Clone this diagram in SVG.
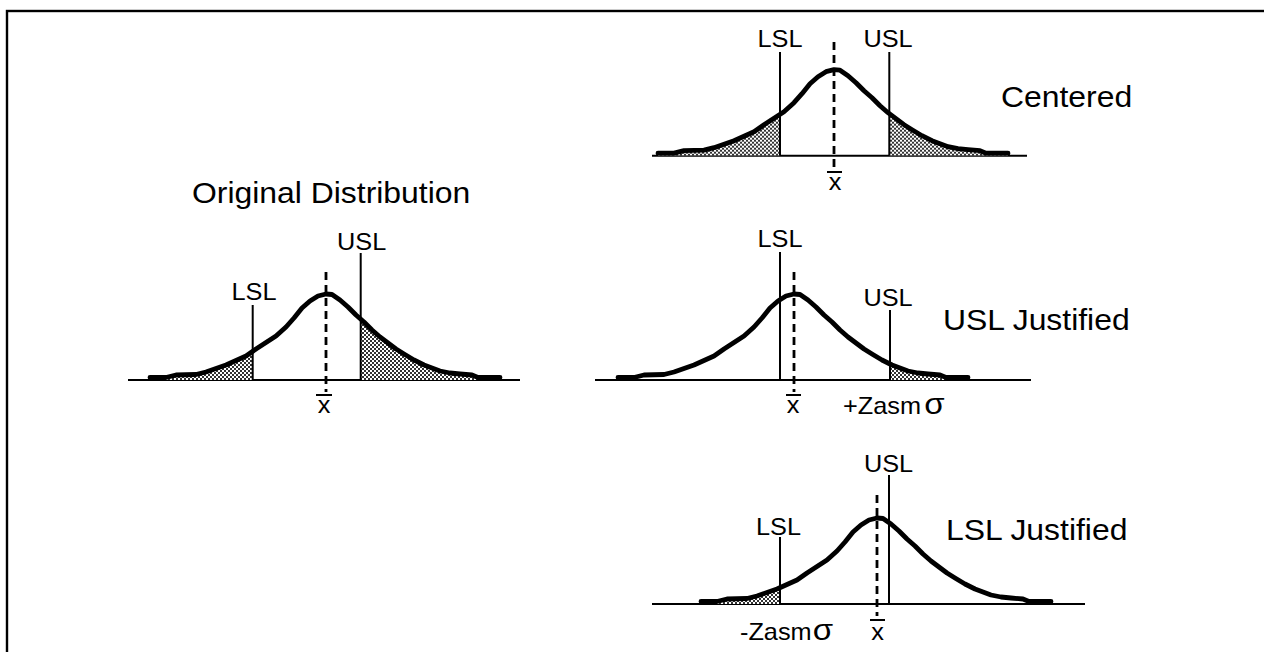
<svg xmlns="http://www.w3.org/2000/svg" xmlns:xlink="http://www.w3.org/1999/xlink" width="1264" height="652" viewBox="0 0 1264 652">
<style>
.t{font-family:"Liberation Sans",Arial,sans-serif;fill:#000}
.lab{font-size:23px}
.ttl{font-size:29px}
.sig{font-size:30px}
.base{stroke:#000;stroke-width:2;fill:none}
.spec{stroke:#000;stroke-width:2;fill:none}
.mean{stroke:#000;stroke-width:2.8;stroke-dasharray:8 5;fill:none}
.curve{stroke:#000;stroke-width:4.8;fill:none;stroke-linejoin:round;stroke-linecap:round}
.bar{stroke:#000;stroke-width:2}
</style>
<defs>
<pattern id="dots" width="4" height="4" patternUnits="userSpaceOnUse">
<rect width="4" height="4" fill="#fff"/>
<rect width="2" height="2" fill="#333"/>
<rect x="2" y="2" width="2" height="2" fill="#333"/>
</pattern>
<path id="curve" d="M-176,-2.5 L-160,-2.5 -150,-5 -130,-5.5 -120,-8 -110,-11.5 -100,-15 -90,-19.5 -80,-24 -70,-31 -60,-37.5 -50,-44 -40,-53 -32,-62 -24,-72 -16,-79 -8,-84 0,-86 6,-85.5 14,-80 22,-73 30,-65 38,-58 46,-50 54,-43 62,-37 70,-31 78,-26 88,-20 98,-15 106,-12 114,-9 124,-7 134,-6 146,-5 152,-2.5 174,-2.5"/>
<path id="area" fill="url(#dots)" d="M-176,-2.5 L-160,-2.5 -150,-5 -130,-5.5 -120,-8 -110,-11.5 -100,-15 -90,-19.5 -80,-24 -70,-31 -60,-37.5 -50,-44 -40,-53 -32,-62 -24,-72 -16,-79 -8,-84 0,-86 6,-85.5 14,-80 22,-73 30,-65 38,-58 46,-50 54,-43 62,-37 70,-31 78,-26 88,-20 98,-15 106,-12 114,-9 124,-7 134,-6 146,-5 152,-2.5 174,-2.5 L174,0 L-176,0 Z"/>
<clipPath id="cL54"><rect x="-200" y="-120" width="146" height="120"/></clipPath>
<clipPath id="cR55"><rect x="55" y="-120" width="150" height="120"/></clipPath>
<clipPath id="cL73"><rect x="-200" y="-120" width="126.7" height="120"/></clipPath>
<clipPath id="cR35"><rect x="34.7" y="-120" width="170" height="120"/></clipPath>
<clipPath id="cR96"><rect x="96" y="-120" width="110" height="120"/></clipPath>
<clipPath id="cL97"><rect x="-200" y="-120" width="103" height="120"/></clipPath>
</defs>
<rect x="7" y="11" width="1300" height="700" fill="none" stroke="#000" stroke-width="2.4"/>
<g id="connectors"/>
<g id="centered">
<line class="base" x1="652" y1="155.7" x2="1027" y2="155.7"/>
<g transform="translate(834,155.7)">
<use xlink:href="#area" clip-path="url(#cL54)"/>
<use xlink:href="#area" clip-path="url(#cR55)"/>
<use xlink:href="#curve" class="curve"/>
</g>
<line class="spec" x1="780" y1="52" x2="780" y2="155.7"/>
<line class="spec" x1="889.3" y1="52" x2="889.3" y2="155.7"/>
<line class="mean" x1="834" y1="42" x2="834" y2="169"/>
<text class="t lab" text-anchor="middle" transform="translate(780,47) scale(1.1,1)">LSL</text>
<text class="t lab" text-anchor="middle" transform="translate(888,47) scale(1.1,1)">USL</text>
<line class="bar" x1="827" y1="172" x2="842" y2="172"/>
<text class="t lab" text-anchor="middle" transform="translate(835,190) scale(1.1,1)">x</text>
<text class="t ttl" transform="translate(1001,107) scale(1.1,1)">Centered</text>
</g>
<g id="original">
<text class="t ttl" transform="translate(192,203) scale(1.1,1)">Original Distribution</text>
<line class="base" x1="128" y1="380" x2="520" y2="380"/>
<g transform="translate(326,380)">
<use xlink:href="#area" clip-path="url(#cL73)"/>
<use xlink:href="#area" clip-path="url(#cR35)"/>
<use xlink:href="#curve" class="curve"/>
</g>
<line class="spec" x1="252.7" y1="305" x2="252.7" y2="380"/>
<line class="spec" x1="360.7" y1="253" x2="360.7" y2="380"/>
<line class="mean" x1="326" y1="272" x2="326" y2="392"/>
<text class="t lab" text-anchor="middle" transform="translate(254,300) scale(1.1,1)">LSL</text>
<text class="t lab" text-anchor="middle" transform="translate(361.7,250) scale(1.1,1)">USL</text>
<line class="bar" x1="316" y1="395" x2="332" y2="395"/>
<text class="t lab" text-anchor="middle" transform="translate(324,413) scale(1.1,1)">x</text>
</g>
<g id="usl-justified">
<line class="base" x1="595" y1="380" x2="1031" y2="380"/>
<g transform="translate(794,380)">
<use xlink:href="#area" clip-path="url(#cR96)"/>
<use xlink:href="#curve" class="curve"/>
</g>
<line class="spec" x1="780" y1="252" x2="780" y2="380"/>
<line class="spec" x1="890" y1="310" x2="890" y2="380"/>
<line class="mean" x1="794" y1="272" x2="794" y2="392"/>
<text class="t lab" text-anchor="middle" transform="translate(780,247) scale(1.1,1)">LSL</text>
<text class="t lab" text-anchor="middle" transform="translate(888,306) scale(1.1,1)">USL</text>
<line class="bar" x1="786" y1="395" x2="801" y2="395"/>
<text class="t lab" text-anchor="middle" transform="translate(793,413) scale(1.1,1)">x</text>
<text class="t lab" transform="translate(843,414) scale(1.1,1)">+Zasm<tspan class="sig" dx="3">σ</tspan></text>
<text class="t ttl" transform="translate(943,330) scale(1.1,1)">USL Justified</text>
</g>
<g id="lsl-justified">
<line class="base" x1="652" y1="604" x2="1085" y2="604"/>
<g transform="translate(877,604)">
<use xlink:href="#area" clip-path="url(#cL97)"/>
<use xlink:href="#curve" class="curve"/>
</g>
<line class="spec" x1="780" y1="537" x2="780" y2="604"/>
<line class="spec" x1="889" y1="475" x2="889" y2="604"/>
<line class="mean" x1="877" y1="495" x2="877" y2="616"/>
<text class="t lab" text-anchor="middle" transform="translate(778.5,535) scale(1.1,1)">LSL</text>
<text class="t lab" text-anchor="middle" transform="translate(888.5,472) scale(1.1,1)">USL</text>
<line class="bar" x1="870" y1="620" x2="885" y2="620"/>
<text class="t lab" text-anchor="middle" transform="translate(877.5,640) scale(1.1,1)">x</text>
<text class="t lab" transform="translate(740,640) scale(1.1,1)">-Zasm<tspan class="sig" dx="1">σ</tspan></text>
<text class="t ttl" transform="translate(946,540) scale(1.1,1)">LSL Justified</text>
</g>
</svg>
